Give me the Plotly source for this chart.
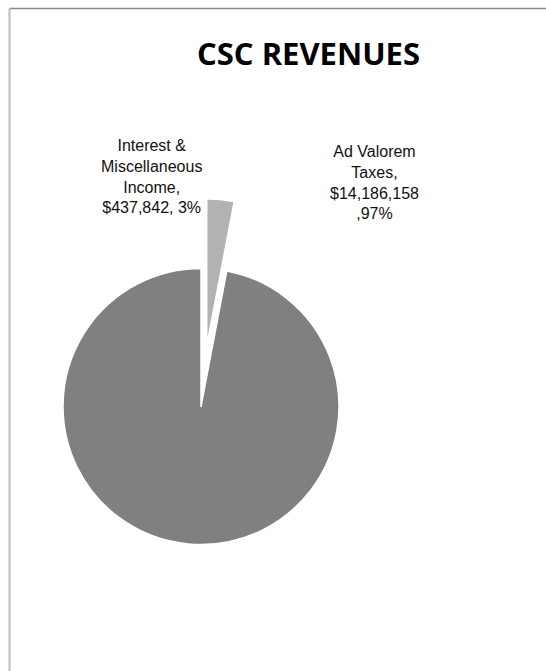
import math
import plotly.graph_objects as go

# Data
categories = ["Interest &<br>Miscellaneous<br>Income", "Ad Valorem<br>Taxes"]
values = [437842, 14186158]
percents = ["3%", "97%"]
slice_colors = ["#b2b2b2", "#808080"]
title_text = "CSC REVENUES"

W, H = 546, 671
cx, cy, r = 201.0, 406.5, 138.0   # pixel centre / radius of pie
pull = 0.5                         # explode fraction for the small slice

total = sum(values)
frac0 = values[0] / total
bis = frac0 * 2 * math.pi / 2      # bisector angle (clockwise from 12 o'clock)
dx = pull * r * math.sin(bis)
dy = -pull * r * math.cos(bis)


def dom(cxp, cyp):
    return dict(x=[(cxp - r) / W, (cxp + r) / W],
                y=[(H - cyp - r) / H, (H - cyp + r) / H])


fig = go.Figure()
# main pie (small slice hidden)
fig.add_trace(go.Pie(
    labels=categories, values=values, sort=False, direction="clockwise",
    rotation=0, textinfo="none", hoverinfo="label+value+percent",
    marker=dict(colors=["rgba(0,0,0,0)", slice_colors[1]],
                line=dict(color="white", width=1.5)),
    domain=dom(cx, cy), showlegend=False,
))
# exploded small slice
fig.add_trace(go.Pie(
    labels=categories, values=values, sort=False, direction="clockwise",
    rotation=0, textinfo="none", hoverinfo="label+value+percent",
    marker=dict(colors=[slice_colors[0], "rgba(0,0,0,0)"],
                line=dict(color="rgba(255,255,255,0)", width=0)),
    domain=dom(cx + dx, cy + dy), showlegend=False,
))

label_pos = [(151, 177), (374, 182)]
annotations = []
for cat, v, p, (lx, ly) in zip(categories, values, percents, label_pos):
    if v < 1_000_000:
        txt = f"{cat},<br>${v:,}, {p}"
    else:
        txt = f"{cat},<br>${v:,}<br>,{p}"
    annotations.append(dict(
        x=lx / W, y=1 - ly / H, xref="paper", yref="paper",
        text=txt, showarrow=False, align="center",
        xanchor="center", yanchor="middle",
        font=dict(family="Liberation Sans, Arial", size=16, color="#111111"),
    ))

annotations.append(dict(
    x=308 / W, y=1 - 53 / H, xref="paper", yref="paper",
    text=f"<b>{title_text}</b>", showarrow=False,
    xanchor="center", yanchor="middle",
    font=dict(family="Open Sans", size=31, color="#000000"),
))

fig.update_layout(
    width=W, height=H, margin=dict(l=0, r=0, t=0, b=0),
    paper_bgcolor="white", plot_bgcolor="white",
    annotations=annotations,
    shapes=[
        dict(type="line", xref="paper", yref="paper",
             x0=9.5 / W, x1=1.05, y0=1 - 8.5 / H, y1=1 - 8.5 / H,
             line=dict(color="#8c8c8c", width=1.5)),
        dict(type="line", xref="paper", yref="paper",
             x0=9.5 / W, x1=9.5 / W, y0=-0.05, y1=1 - 8.5 / H,
             line=dict(color="#bcbcbc", width=2)),
    ],
)

fig.write_html("out.html")
